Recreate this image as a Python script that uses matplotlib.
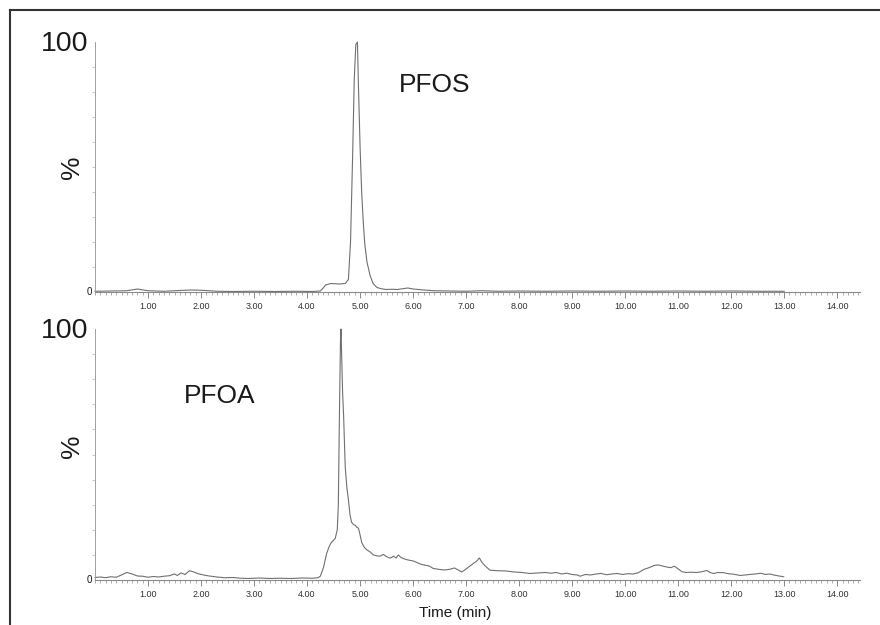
import matplotlib
matplotlib.use("Agg")
import matplotlib.pyplot as plt
from matplotlib.lines import Line2D
import numpy as np

plt.rcParams['font.family'] = ['Liberation Sans', 'DejaVu Sans']

# PFOS chromatogram (retention time in min, relative intensity in %)
pfos_time = [0.0, 0.3, 0.6, 0.8, 1.0, 1.3, 1.6, 1.8, 2.0, 2.3, 2.6, 3.0, 3.4, 3.8,
             4.1, 4.25, 4.3, 4.35, 4.45, 4.6, 4.72, 4.78, 4.82, 4.86, 4.89, 4.92,
             4.95, 4.97, 5.0, 5.03, 5.06, 5.09, 5.13, 5.19, 5.25, 5.32, 5.4, 5.5,
             5.6, 5.7, 5.8, 5.9, 6.0, 6.2, 6.4, 6.7, 7.0, 7.3, 7.6, 8.0, 8.5, 9.0,
             9.5, 10.0, 10.5, 11.0, 11.5, 12.0, 12.5, 13.0]
pfos_pct = [0.3, 0.4, 0.5, 1.2, 0.5, 0.3, 0.6, 0.8, 0.7, 0.3, 0.2, 0.3, 0.2, 0.3,
            0.2, 0.4, 1.5, 2.8, 3.4, 3.2, 3.4, 5.0, 20.0, 55.0, 85.0, 99.0,
            100.0, 82.0, 58.0, 40.0, 28.0, 19.0, 12.0, 6.5, 3.2, 1.8, 1.3, 1.0,
            1.1, 1.0, 1.3, 1.6, 1.2, 0.8, 0.5, 0.4, 0.3, 0.5, 0.3, 0.4, 0.3, 0.4,
            0.3, 0.4, 0.3, 0.4, 0.3, 0.4, 0.3, 0.3]

# PFOA chromatogram
pfoa_time = [0.0, 0.1, 0.2, 0.3, 0.4, 0.5, 0.6, 0.7, 0.8, 0.9, 1.0, 1.1, 1.2, 1.3,
             1.4, 1.5, 1.55, 1.62, 1.7, 1.78, 1.85, 1.95, 2.05, 2.15, 2.3, 2.45,
             2.6, 2.75, 2.9, 3.1, 3.3, 3.5, 3.7, 3.9, 4.1, 4.2, 4.25, 4.31, 4.37,
             4.42, 4.46, 4.53, 4.57, 4.59, 4.61, 4.63, 4.64, 4.655, 4.67, 4.69,
             4.72, 4.75, 4.78, 4.81, 4.84, 4.88, 4.91, 4.94, 4.97, 5.0, 5.03, 5.08,
             5.13, 5.2, 5.25, 5.32, 5.38, 5.44, 5.5, 5.57, 5.63, 5.68, 5.72, 5.77,
             5.82, 5.9, 6.0, 6.07, 6.13, 6.2, 6.3, 6.38, 6.5, 6.6, 6.7, 6.78, 6.85,
             6.92, 7.0, 7.08, 7.15, 7.2, 7.25, 7.3, 7.35, 7.45, 7.6, 7.75, 7.9,
             8.05, 8.2, 8.35, 8.5, 8.6, 8.7, 8.8, 8.9, 9.0, 9.1, 9.15, 9.25, 9.35,
             9.45, 9.55, 9.65, 9.75, 9.85, 9.95, 10.05, 10.15, 10.25, 10.35, 10.45,
             10.55, 10.62, 10.7, 10.78, 10.86, 10.93, 11.0, 11.07, 11.15, 11.25,
             11.35, 11.45, 11.54, 11.6, 11.67, 11.75, 11.86, 11.95, 12.05, 12.17,
             12.3, 12.4, 12.5, 12.55, 12.65, 12.73, 12.8, 12.9, 12.99]
pfoa_pct = [1.0, 1.2, 0.9, 1.3, 1.1, 2.0, 3.0, 2.4, 1.6, 1.5, 1.1, 1.4, 1.2, 1.5,
            1.7, 2.4, 1.8, 2.8, 2.2, 3.7, 3.3, 2.5, 2.0, 1.6, 1.2, 0.9,
            1.0, 0.7, 0.6, 0.8, 0.6, 0.7, 0.6, 0.8, 0.7, 0.9, 1.5, 5.0, 10.6,
            13.5, 15.0, 16.5, 20.0, 30.0, 65.0, 95.0, 100.0, 88.0, 75.0, 65.0,
            45.0, 37.0, 32.0, 26.0, 23.0, 22.0, 21.8, 21.0, 20.6, 18.0, 15.0, 13.0,
            12.0, 11.0, 10.0, 9.6, 9.5, 10.2, 9.3, 8.7, 9.5, 8.8, 10.0, 9.0,
            8.5, 8.0, 7.6, 7.0, 6.4, 6.0, 5.6, 4.6, 4.2, 4.0, 4.3, 4.8, 4.0,
            3.2, 4.4, 5.7, 6.8, 7.5, 8.8, 7.0, 5.8, 3.9, 3.7, 3.6, 3.2,
            3.0, 2.6, 2.8, 3.0, 2.7, 3.0, 2.4, 2.7, 2.2, 2.0, 1.5, 2.2, 2.0,
            2.4, 2.6, 2.1, 2.4, 2.6, 2.2, 2.5, 2.4, 2.9, 4.2, 4.9,
            5.8, 6.0, 5.6, 5.2, 4.9, 5.5, 4.4, 3.3, 3.0, 3.1,
            3.0, 3.3, 3.8, 3.0, 2.6, 3.0, 2.9, 2.5, 2.3, 1.8,
            2.1, 2.3, 2.5, 2.7, 2.2, 2.4, 2.0, 1.6, 1.3]

x_tick_values = [1, 2, 3, 4, 5, 6, 7, 8, 9, 10, 11, 12, 13, 14]
x_tick_labels = ["1.00", "2.00", "3.00", "4.00", "5.00", "6.00", "7.00",
                 "8.00", "9.00", "10.00", "11.00", "12.00", "13.00", "14.00"]

W, H = 880, 625
fig = plt.figure(figsize=(W / 100, H / 100), dpi=100)

trace_color = "#707070"
axis_color = "#8a8a8a"
text_color = "#1a1a1a"


def px_axes(left, bottom_px, right, top_px):
    return fig.add_axes([left / W, 1 - bottom_px / H,
                         (right - left) / W, (bottom_px - top_px) / H])


def side_label(ax, y, text, dx_px, dy_px=0, **kw):
    # label placed a fixed pixel distance left of the y axis
    ax.annotate(text, xy=(0, y), xycoords=("axes fraction", "data"),
                xytext=(dx_px, dy_px), textcoords="offset pixels",
                color=text_color, annotation_clip=False, **kw)


def style(ax, t, v, name, name_xy, pct_dy):
    ax.plot(t, v, color=trace_color, lw=0.8, clip_on=False)
    ax.set_xlim(0, 14.43)
    ax.set_ylim(0, 100)
    for s in ("top", "right"):
        ax.spines[s].set_visible(False)
    ax.spines["left"].set_color("#a0a0a0")
    ax.spines["left"].set_linewidth(0.7)
    ax.spines["bottom"].set_color(axis_color)
    ax.spines["bottom"].set_linewidth(0.8)
    ax.set_xticks(x_tick_values)
    ax.set_xticklabels(x_tick_labels)
    ax.set_xticks(np.arange(0, 14.45, 0.1), minor=True)
    ax.tick_params(axis="x", which="major", direction="out", length=4,
                   width=0.7, color=axis_color, labelsize=6.5,
                   labelcolor="#333333", pad=3)
    ax.tick_params(axis="x", which="minor", direction="out", length=2.2,
                   width=0.5, color=axis_color)
    ax.set_yticks(np.arange(10, 100, 10))
    ax.set_yticklabels([])
    ax.tick_params(axis="y", which="major", direction="out", length=2.5,
                   width=0.5, color="#b0b0b0")
    side_label(ax, 100, "100", -7, -2, fontsize=20.5, ha="right", va="center")
    side_label(ax, 0, "0", -3, 0, fontsize=7, ha="right", va="center")
    side_label(ax, 50, "%", -23, pct_dy, fontsize=19, rotation=90,
               ha="center", va="center")
    ax.text(name_xy[0], name_xy[1], name, fontsize=19, ha="center",
            va="center", color=text_color)


ax1 = px_axes(95, 292, 860, 42)
style(ax1, pfos_time, pfos_pct, "PFOS", (6.4, 83.0), 0)

ax2 = px_axes(95, 580, 860, 329)
style(ax2, pfoa_time, pfoa_pct, "PFOA", (2.35, 73.5), 8)
ax2.text(455 / W, 1 - 613 / H, "Time (min)", transform=fig.transFigure,
         fontsize=11, ha="center", va="center", color=text_color)

# outer frame (top and left edges)
fig.add_artist(Line2D([10 / W, 1.0], [1 - 10 / H, 1 - 10 / H],
                      transform=fig.transFigure, color="#333333", lw=1.5))
fig.add_artist(Line2D([10 / W, 10 / W], [1 - 10 / H, 0.0],
                      transform=fig.transFigure, color="#333333", lw=1.5))

fig.savefig("out.png", dpi=100, facecolor="white")
